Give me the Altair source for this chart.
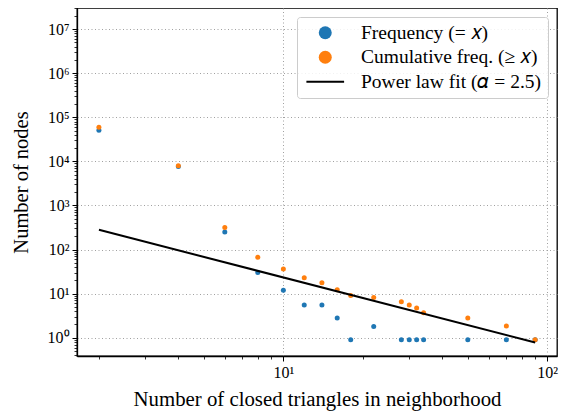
import altair as alt
import pandas as pd

# ---- data ----
x_vals = [2, 4, 6, 8, 10, 12, 14, 16, 18, 22, 28, 30, 32, 34, 50, 70, 90]
freq_vals = [50500, 7650, 250, 30, 12, 5.5, 5.5, 2.8, 0.9, 1.8, 0.9, 0.9, 0.9, 0.9, 0.9, 0.9, 0.9]
cum_vals = [59000, 7950, 315, 67, 36, 23, 17.7, 12.2, 9.1, 8.2, 6.5, 5.5, 4.7, 3.7, 2.8, 1.85, 0.9]
fit_x = [2, 90]
fit_y = [280, 0.78]

series_names = ["Frequency (= 𝑥)", "Cumulative freq. (≥ 𝑥)", "Power law fit (𝛼 = 2.5)"]
series_colors = ["#1f77b4", "#ff7f0e", "#000000"]
series_shapes = ["circle", "circle", "M-2.9,-0.16L2.9,-0.16L2.9,0.16L-2.9,0.16Z"]

x_major = [10, 100]
x_minor = [2, 3, 4, 5, 6, 7, 8, 9, 20, 30, 40, 50, 60, 70, 80, 90]
y_major = [1, 10, 100, 1000, 10000, 100000, 1000000, 10000000]
y_minor = [m * 10 ** k for k in range(-1, 8) for m in range(2, 10)]
x_domain = [1.652, 108.9]
y_domain = [0.385, 3.0e7]
y_minor = [v for v in y_minor if y_domain[0] <= v <= y_domain[1]]

FONT = "Liberation Serif"

n = len(x_vals)
pts = pd.DataFrame({
    "x": x_vals + x_vals,
    "y": freq_vals + cum_vals,
    "series": [series_names[0]] * n + [series_names[1]] * n,
})
fit = pd.DataFrame({"x": fit_x, "y": fit_y})

lab = ("'10' + substring('⁰¹²³⁴⁵⁶⁷⁸⁹', round(log(datum.value)/LN10), "
       "round(log(datum.value)/LN10) + 1)")


def major_axis(values, title, orient, title_pad, title_size):
    return alt.Axis(
        values=values, orient=orient,
        labelExpr=lab, labelOverlap=False, labelFlush=False,
        labelFont=FONT, labelFontSize=16, labelColor="black", labelPadding=3,
        tickSize=5, tickColor="black", tickWidth=1,
        grid=True, gridColor="#a0a0a0", gridDash=[1, 2.5], gridWidth=1,
        domainColor="black", domainWidth=1.3,
        title=title, titleFont=FONT, titleFontSize=title_size, titleFontWeight="normal",
        titleColor="black", titlePadding=title_pad,
    )


def minor_axis(values, orient):
    return alt.Axis(
        values=values, orient=orient, labels=False, grid=False, domain=False,
        tickSize=3, tickColor="black", tickWidth=0.8, title=None,
    )


xs = alt.Scale(type="log", domain=x_domain, nice=False)
ys = alt.Scale(type="log", domain=y_domain, nice=False)

legend = alt.Legend(
    title=None, orient="top-right", offset=9, padding=6,
    symbolOffset=12.5, labelOffset=26, symbolSize=169,
    labelFont=FONT, labelFontSize=19.5, labelColor="black",
    labelLimit=0, rowPadding=3.5, strokeColor="#cccccc",
    fillColor="rgba(255,255,255,0.85)", cornerRadius=3, symbolStrokeWidth=0)

points = alt.Chart(pts).mark_point(filled=True, size=25, opacity=1).encode(
    x=alt.X("x:Q", scale=xs,
            axis=major_axis(x_major, "Number of closed triangles in neighborhood", "bottom", 9, 20.8)),
    y=alt.Y("y:Q", scale=ys, axis=major_axis(y_major, "Number of nodes", "left", 16, 20.5)),
    color=alt.Color("series:N", scale=alt.Scale(domain=series_names, range=series_colors),
                    legend=legend),
    shape=alt.Shape("series:N", scale=alt.Scale(domain=series_names, range=series_shapes),
                    legend=legend),
)

line = alt.Chart(fit).mark_line(color="black", strokeWidth=2).encode(
    x=alt.X("x:Q", scale=xs, axis=minor_axis(x_minor, "bottom")),
    y=alt.Y("y:Q", scale=ys, axis=minor_axis(y_minor, "left")),
)

chart = alt.layer(points, line).resolve_axis(x="independent", y="independent").properties(
    width=480, height=348,
    autosize=alt.AutoSizeParams(type="none"),
    padding={"left": 69, "top": 0, "right": 3, "bottom": 58},
    background="white",
).configure_view(stroke="black", strokeWidth=1.3)

chart.save("out.html", embed_options={"renderer": "svg", "actions": False})
